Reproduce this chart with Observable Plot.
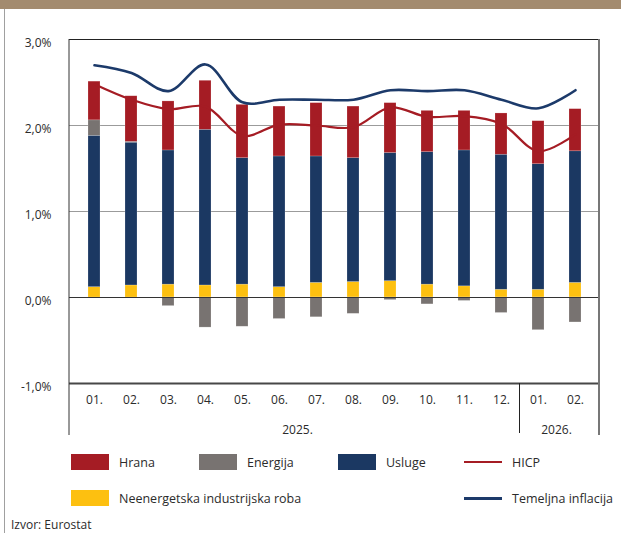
<!DOCTYPE html>
<html>
<head>
<meta charset="utf-8">
<script src="https://cdn.jsdelivr.net/npm/d3@7"></script>
<script src="https://cdn.jsdelivr.net/npm/@observablehq/plot@0.6"></script>
<style>
  html, body { margin: 0; padding: 0; background: #fff; }
  body { width: 621px; height: 533px; position: relative; overflow: hidden; font-family: "Open Sans", sans-serif; color: #2b2b2b; }
  #band { position: absolute; left: 0; top: 0; width: 621px; height: 9px; background: #a38b6f; }
  #edge { position: absolute; left: 4px; top: 9px; bottom: 0; width: 1px; background: #a0a0a0; }
  #chart { position: absolute; left: 0; top: 0; }
  .lg { position: absolute; display: flex; align-items: center; font-size: 12.5px; white-space: nowrap; }
  .lg .sw { width: 38px; height: 16px; margin-right: 10px; }
  .lg .ln { width: 38px; height: 0; border-top-style: solid; margin-right: 10px; }
  #src { position: absolute; left: 11px; top: 518px; font-size: 12px; line-height: 14px; }
</style>
</head>
<body>
<div id="band"></div>
<div id="edge"></div>
<div id="chart"></div>
<div id="legend"></div>
<div id="src">Izvor: Eurostat</div>
<script>
// ---- data ----
const months = ["01.","02.","03.","04.","05.","06.","07.","08.","09.","10.","11.","12.","01.","02."];
const years  = ["2025.","2025.","2025.","2025.","2025.","2025.","2025.","2025.","2025.","2025.","2025.","2025.","2026.","2026."];
const hrana    = [0.45,0.53,0.57,0.57,0.62,0.58,0.62,0.60,0.58,0.48,0.46,0.48,0.50,0.49];
const energija = [0.18,0.01,-0.10,-0.35,-0.34,-0.25,-0.23,-0.19,-0.03,-0.08,-0.04,-0.18,-0.38,-0.29];
const usluge   = [1.76,1.66,1.56,1.81,1.47,1.52,1.47,1.44,1.49,1.54,1.58,1.57,1.46,1.53];
const neig     = [0.12,0.14,0.15,0.14,0.15,0.12,0.17,0.18,0.19,0.15,0.13,0.09,0.09,0.17];
const hicp     = [2.48,2.30,2.19,2.22,1.88,2.01,2.00,1.98,2.21,2.10,2.11,2.02,1.70,1.90];
const core     = [2.70,2.61,2.40,2.71,2.27,2.30,2.30,2.30,2.41,2.40,2.41,2.30,2.20,2.41];
const yTicks   = [-1, 0, 1, 2, 3];

const barNames  = ["Neenergetska industrijska roba", "Usluge", "Energija", "Hrana"];
const barColors = ["#fdc010", "#1b3862", "#787371", "#a51c24"];
const lineNames = ["HICP", "Temeljna inflacija"];
const lineColors = ["#a51c24", "#1c3a6a"];

// ---- tables ----
const keys = months.map((m, i) => years[i] + m);
const seriesVals = { "Neenergetska industrijska roba": neig, "Usluge": usluge, "Energija": energija, "Hrana": hrana };
const bars = [];
keys.forEach((k, i) => barNames.forEach(s => bars.push({ key: k, series: s, value: seriesVals[s][i] })));
const hicpRows = keys.map((k, i) => ({ key: k, v: hicp[i] }));
const coreRows = keys.map((k, i) => ({ key: k, v: core[i] }));
const monthOf = Object.fromEntries(keys.map((k, i) => [k, months[i]]));
const fmt = d => d.toFixed(1).replace(".", ",") + "%";

const chart = Plot.plot({
  width: 621,
  height: 440,
  marginLeft: 69,
  marginRight: 22,
  marginTop: 39,
  marginBottom: 57,
  style: { fontFamily: "Open Sans, sans-serif", fontSize: "12px", color: "#2b2b2b", background: "transparent", overflow: "visible" },
  x: { type: "band", domain: keys, paddingInner: 0.68, paddingOuter: 0.34, label: null },
  y: { domain: [-1, 3], label: null },
  color: { domain: barNames, range: barColors },
  marks: [
    Plot.ruleY([1, 2], { stroke: "#9b9b9b", strokeWidth: 1 }),
    Plot.barY(bars, { x: "key", y: "value", fill: "series", order: barNames, stroke: "#ffffff", strokeOpacity: 0.3, strokeWidth: 0.6 }),
    Plot.ruleY([0], { stroke: "#333", strokeWidth: 1 }),
    Plot.ruleY([-1], { stroke: "#474747", strokeWidth: 2 }),
    Plot.ruleY([3], { stroke: "#222", strokeWidth: 1 }),
    Plot.lineY(hicpRows, { x: "key", y: "v", curve: "catmull-rom", stroke: lineColors[0], strokeWidth: 2.2 }),
    Plot.lineY(coreRows, { x: "key", y: "v", curve: "catmull-rom", stroke: lineColors[1], strokeWidth: 2.6 }),
    Plot.axisY({ ticks: yTicks, tickFormat: fmt, tickSize: 0, tickPadding: 18, dy: 4, fontSize: 12, label: null }),
    Plot.axisX({ tickSize: 0, tickPadding: 12, tickFormat: k => monthOf[k], fontSize: 12, label: null })
  ]
});

// frame lines and year labels, placed with the plot's own scales
const xs = chart.scale("x"), ys = chart.scale("y");
const bw = xs.bandwidth;
const center = k => xs.apply(k) + bw / 2;
const [x0, x1] = xs.range;
const yTop = ys.apply(3), yBot = ys.apply(-1), yEnd = yBot + 52;
const svg = d3.select(chart);
const g = svg.append("g");
g.append("line").attr("x1", x0).attr("x2", x0).attr("y1", yTop).attr("y2", yEnd).attr("stroke", "#333").attr("stroke-width", 1);
g.append("line").attr("x1", x1).attr("x2", x1).attr("y1", yTop).attr("y2", yEnd).attr("stroke", "#777").attr("stroke-width", 2);
const yearList = Array.from(new Set(years));
yearList.forEach((yr, j) => {
  const ks = keys.filter((k, i) => years[i] === yr);
  const cx = (center(ks[0]) + center(ks[ks.length - 1])) / 2;
  g.append("text").attr("x", cx).attr("y", yBot + 51).attr("text-anchor", "middle")
    .attr("font-size", 12).attr("fill", "#2b2b2b").text(yr);
  if (j > 0) {
    const prev = keys[keys.indexOf(ks[0]) - 1];
    const sx = (center(prev) + center(ks[0])) / 2;
    g.append("line").attr("x1", sx).attr("x2", sx).attr("y1", yBot).attr("y2", yEnd - 2).attr("stroke", "#222").attr("stroke-width", 1);
  }
});
document.getElementById("chart").append(chart);

// ---- legend ----
const legendItems = [
  { label: barNames[3], color: barColors[3], kind: "sw", left: 71, top: 454 },
  { label: barNames[2], color: barColors[2], kind: "sw", left: 199, top: 454 },
  { label: barNames[1], color: barColors[1], kind: "sw", left: 338, top: 454 },
  { label: lineNames[0], color: lineColors[0], kind: "ln", left: 464, top: 454, w: 2.5 },
  { label: barNames[0], color: barColors[0], kind: "sw", left: 71, top: 490 },
  { label: lineNames[1], color: lineColors[1], kind: "ln", left: 464, top: 490, w: 3 }
];
const lg = document.getElementById("legend");
legendItems.forEach(it => {
  const d = document.createElement("div");
  d.className = "lg";
  d.style.left = it.left + "px";
  d.style.top = it.top + "px";
  d.style.height = "16px";
  const s = document.createElement("div");
  s.className = it.kind;
  if (it.kind === "sw") s.style.background = it.color;
  else { s.style.borderTopColor = it.color; s.style.borderTopWidth = it.w + "px"; }
  const t = document.createElement("span");
  t.textContent = it.label;
  d.append(s, t);
  lg.append(d);
});
</script>
</body>
</html>
